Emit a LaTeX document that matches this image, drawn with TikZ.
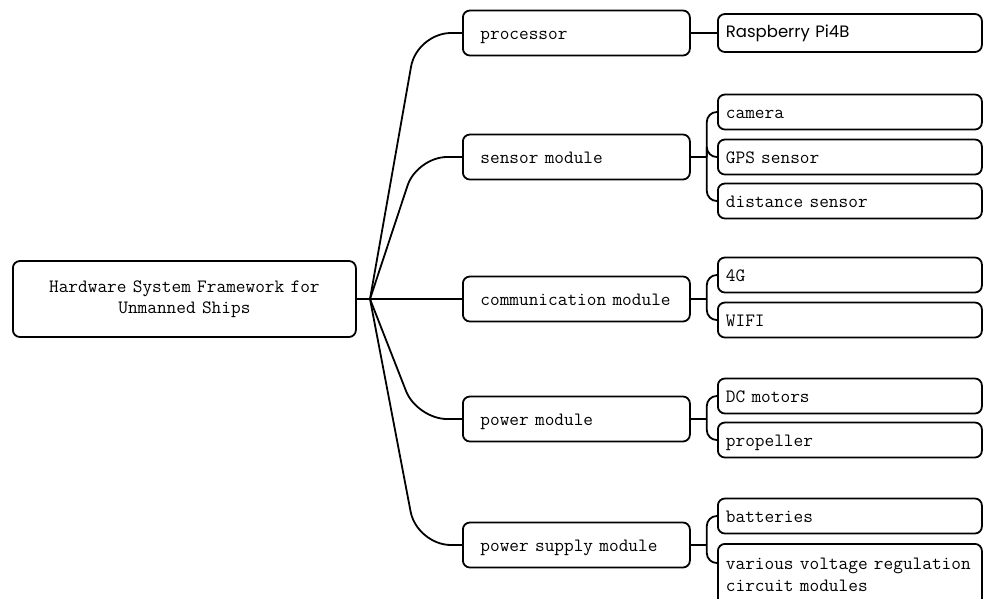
\documentclass[tikz,border=0pt]{standalone}
\usepackage{fontspec}
\newfontfamily\rpfont{Poppins}
\usetikzlibrary{calc}
\tikzset{
  txt/.style={font=\ttfamily\fontsize{18.8}{21.5}\selectfont},
  box/.style={draw, line width=1.8pt, rounded corners=7pt, txt},
  oneline/.style={text height=14pt, text depth=2pt},
  rootbox/.style={box, minimum width=343pt, minimum height=76pt, text width=300pt, inner xsep=21.5pt, align=center, anchor=west},
  midbox/.style={box, oneline, minimum width=227pt, minimum height=45pt, text width=192pt, inner xsep=17.5pt, align=left, anchor=west},
  leafbox/.style={box, minimum width=264pt, minimum height=35pt, text width=248pt, inner xsep=8pt, align=left, anchor=west},
  link/.style={line width=1.8pt},
}
\begin{document}
\begin{tikzpicture}[x=1pt, y=-1pt]
\useasboundingbox (0,0) rectangle (983,598);
\clip (0,0) rectangle (983,598);
% root
\node[rootbox] (root) at (12,299) {Hardware System Framework for\\Unmanned Ships};
\coordinate (hub) at (370,299);
% mid nodes
\node[midbox] (proc) at (462,33) {processor};
\node[midbox] (sens) at (462,157) {sensor module};
\node[midbox] (comm) at (462,299) {communication module};
\node[midbox] (pwr) at (462,419) {power module};
\node[midbox] (psup) at (462,545) {power supply module};
% leaves
\node[leafbox, minimum height=38pt, text height=11pt, text depth=3pt, font=\rpfont\fontsize{16.5}{19}\selectfont] (rpi) at (717,33) {Raspberry Pi4B};
\node[leafbox, oneline] (cam) at (717,112) {camera};
\node[leafbox, oneline] (gps) at (717,157) {GPS sensor};
\node[leafbox, oneline] (dist) at (717,201) {distance sensor};
\node[leafbox, oneline] (g4) at (717,275) {4G};
\node[leafbox, oneline] (wifi) at (717,320) {WIFI};
\node[leafbox, oneline] (dcm) at (717,396) {DC motors};
\node[leafbox, oneline] (prop) at (717,440) {propeller};
\node[leafbox, oneline] (bat) at (717,516) {batteries};
\node[leafbox, minimum height=62pt, anchor=north west] (volt) at (717,543) {various voltage regulation\\circuit modules};
% root connectors
\draw[link] (root.east) -- (hub);
\draw[link, rounded corners=34pt] (hub) -- ($(proc.west)+(-45,0)$) -- (proc.west);
\draw[link, rounded corners=30pt] (hub) -- ($(sens.west)+(-45,0)$) -- (sens.west);
\draw[link] (hub) -- (comm.west);
\draw[link, rounded corners=30pt] (hub) -- ($(pwr.west)+(-45,0)$) -- (pwr.west);
\draw[link, rounded corners=34pt] (hub) -- ($(psup.west)+(-45,0)$) -- (psup.west);
% mid to leaf connectors
\draw[link] (proc.east) -- (rpi.west);
\coordinate (sj) at ($(sens.east)+(16,0)$);
\coordinate (cj) at ($(comm.east)+(16,0)$);
\coordinate (pj) at ($(pwr.east)+(16,0)$);
\coordinate (qj) at ($(psup.east)+(16,0)$);
\draw[link] (sens.east) -- (sj);
\draw[link] (comm.east) -- (cj);
\draw[link] (pwr.east) -- (pj);
\draw[link] (psup.east) -- (qj);
\begin{scope}[link, rounded corners=10pt]
\draw (sj) |- (cam.west);
\draw (sj) |- (gps.west);
\draw (sj) |- (dist.west);
\draw (cj) |- (g4.west);
\draw (cj) |- (wifi.west);
\draw (pj) |- (dcm.west);
\draw (pj) |- (prop.west);
\draw (qj) |- (bat.west);
\draw (qj) |- ($(volt.north west)+(0,20)$);
\end{scope}
\end{tikzpicture}
\end{document}
